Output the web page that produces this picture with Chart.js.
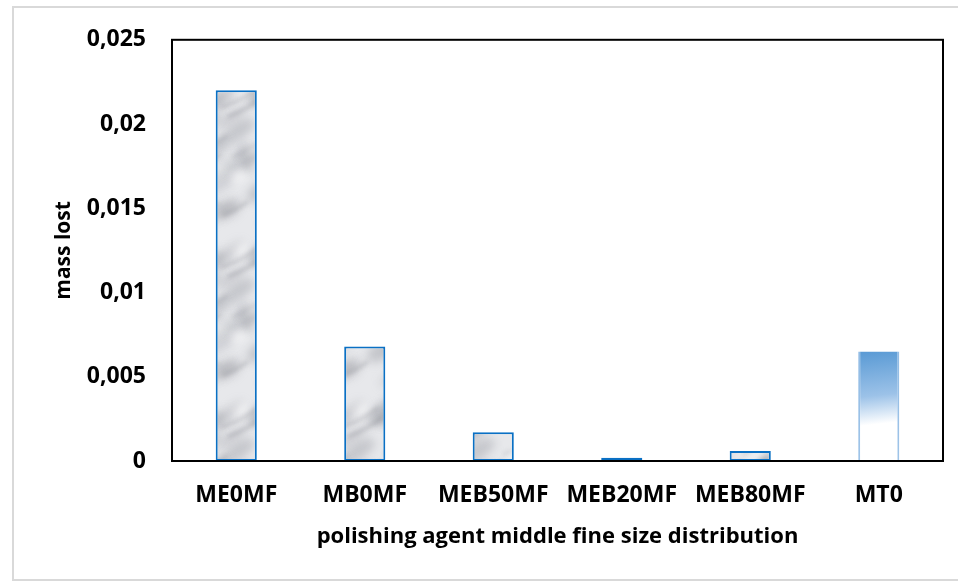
<!DOCTYPE html>
<html>
<head>
<meta charset="utf-8">
<script src="https://cdn.jsdelivr.net/npm/chart.js@4/dist/chart.umd.min.js"></script>
<style>
  html, body { margin: 0; padding: 0; background: #fff; }
  #wrap { position: relative; width: 958px; height: 584px; overflow: hidden; }
  #frame { position: absolute; left: 12px; top: 6px; width: 980px; height: 575px;
           border: 2px solid #d9d9d9; box-sizing: border-box; }
  canvas { position: absolute; left: 0; top: 0; }
</style>
</head>
<body>
<div id="wrap">
  <div id="frame"></div>
  <canvas id="c" width="958" height="584"></canvas>
</div>
<script>
// Samples and measured mass loss
const categories = ['ME0MF', 'MB0MF', 'MEB50MF', 'MEB20MF', 'MEB80MF', 'MT0'];
const massLost = [0.022, 0.0068, 0.0017, 0.0002, 0.0006, 0.0065];
const yTicks = [0, 0.005, 0.01, 0.015, 0.02, 0.025];

const FONT = '"Open Sans"';
const WEIGHT = 'bold';

// deterministic hash used only to scatter the texture speckles
function hash(n) {
  const s = Math.sin(n * 12.9898 + 78.233) * 43758.5453;
  return s - Math.floor(s);
}

// Grey marble-like texture for the polishing agent bars (seamless tile)
function marblePattern(ctx) {
  const W = 120, H = 160;
  const off = document.createElement('canvas');
  off.width = W; off.height = H;
  const o = off.getContext('2d');
  o.fillStyle = '#e7e8eb';
  o.fillRect(0, 0, W, H);

  const drawWrapped = (fn) => {
    for (const dx of [-W, 0, W]) for (const dy of [-H, 0, H]) fn(dx, dy);
  };

  // mottled grey clouds
  o.filter = 'blur(5px)';
  for (let i = 0; i < 44; i++) {
    const x = hash(i) * W, y = hash(i + 100) * H;
    const rx = 6 + hash(i + 200) * 14, ry = 3 + hash(i + 300) * 6;
    const a = 0.16 + hash(i + 400) * 0.26;
    drawWrapped((dx, dy) => {
      o.fillStyle = 'rgba(145,147,155,' + a.toFixed(3) + ')';
      o.beginPath();
      o.ellipse(x + dx, y + dy, rx, ry, -0.6, 0, Math.PI * 2);
      o.fill();
    });
  }

  // soft diagonal streaks
  o.filter = 'blur(2.2px)';
  for (let i = 0; i < 12; i++) {
    const x = hash(i + 500) * W, y = hash(i + 600) * H;
    const len = 16 + hash(i + 700) * 26;
    const a = 0.22 + hash(i + 800) * 0.25;
    drawWrapped((dx, dy) => {
      o.strokeStyle = 'rgba(125,127,135,' + a.toFixed(3) + ')';
      o.lineWidth = 2 + hash(i + 900) * 1.5;
      o.beginPath();
      o.moveTo(x + dx, y + dy);
      o.quadraticCurveTo(x + dx + len * 0.5, y + dy - len * 0.2,
                         x + dx + len * 0.9, y + dy - len * 0.5);
      o.stroke();
    });
  }

  // light patches
  o.filter = 'blur(4px)';
  for (let i = 0; i < 12; i++) {
    const x = hash(i + 1000) * W, y = hash(i + 1100) * H;
    drawWrapped((dx, dy) => {
      o.fillStyle = 'rgba(255,255,255,0.55)';
      o.beginPath();
      o.ellipse(x + dx, y + dy, 8, 5, -0.6, 0, Math.PI * 2);
      o.fill();
    });
  }
  return ctx.createPattern(off, 'repeat');
}

const ctx = document.getElementById('c').getContext('2d');
const marble = marblePattern(ctx);
const LAST = categories.length - 1;

// The MT0 sample gets a blue-to-white gradient instead of the texture
function barFill(context) {
  const chart = context.chart;
  const area = chart.chartArea;
  if (context.dataIndex !== LAST) return marble;
  if (!area || !chart.scales.y || !chart.scales.x) return '#5b9bd5';
  const top = chart.scales.y.getPixelForValue(massLost[LAST]);
  const bottom = area.bottom;
  const cx = chart.scales.x.getPixelForValue(LAST);
  if (![top, bottom, cx].every(isFinite)) return '#5b9bd5';
  const g = chart.ctx.createLinearGradient(cx - 6, top, cx + 6, bottom);
  g.addColorStop(0, '#5b9bd5');
  g.addColorStop(0.4, '#9cc2e8');
  g.addColorStop(0.66, '#ffffff');
  g.addColorStop(1, '#ffffff');
  return g;
}

function barBorder(context) {
  const chart = context.chart;
  const area = chart.chartArea;
  if (context.dataIndex !== LAST) return '#0a70c4';
  if (!area || !isFinite(area.top) || !isFinite(area.bottom)) return '#8db8e3';
  const g = chart.ctx.createLinearGradient(0, area.top, 0, area.bottom);
  g.addColorStop(0, '#6ea6dc');
  g.addColorStop(1, '#9fc4e8');
  return g;
}

const plotFrame = {
  id: 'plotFrame',
  afterDatasetsDraw(chart) {
    const a = chart.chartArea;
    const c = chart.ctx;
    c.save();
    c.strokeStyle = '#000';
    c.lineWidth = 2;
    c.strokeRect(a.left, a.top, a.right - a.left, a.bottom - a.top);
    c.restore();
  }
};

new Chart(ctx, {
  type: 'bar',
  data: {
    labels: categories,
    datasets: [{
      data: massLost,
      backgroundColor: barFill,
      borderColor: barBorder,
      borderWidth: (c) => c.dataIndex === LAST
        ? { left: 2, right: 2, top: 0, bottom: 0 } : 2,
      borderSkipped: false,
      barPercentage: 0.32,
      categoryPercentage: 1
    }]
  },
  plugins: [plotFrame],
  options: {
    responsive: false,
    animation: false,
    devicePixelRatio: 1,
    layout: { padding: { left: 0, top: 36, right: 15, bottom: 0 } },
    plugins: { legend: { display: false }, tooltip: { enabled: false } },
    scales: {
      x: {
        grid: { display: false, drawTicks: false },
        border: { display: false },
        ticks: {
          color: '#000', padding: 21, maxRotation: 0,
          font: { family: FONT, size: 23, weight: WEIGHT }
        },
        title: {
          display: true, text: 'polishing agent middle fine size distribution',
          color: '#000', padding: { top: 0, bottom: 34 },
          font: { family: FONT, size: 22, weight: WEIGHT }
        },
        afterFit(scale) { scale.height = 123; }
      },
      y: {
        min: 0, max: 0.025,
        grid: { display: false, drawTicks: false },
        border: { display: false },
        afterBuildTicks(scale) { scale.ticks = yTicks.map(v => ({ value: v })); },
        ticks: {
          color: '#000', padding: 26,
          font: { family: FONT, size: 23, weight: WEIGHT },
          callback: (v) => String(+Number(v).toFixed(3)).replace('.', ',')
        },
        title: {
          display: true, text: 'mass lost', color: '#000',
          padding: { top: 51, bottom: 0 },
          font: { family: FONT, size: 21, weight: WEIGHT }
        },
        afterFit(scale) { scale.width = 172; }
      }
    }
  }
});
</script>
</body>
</html>
